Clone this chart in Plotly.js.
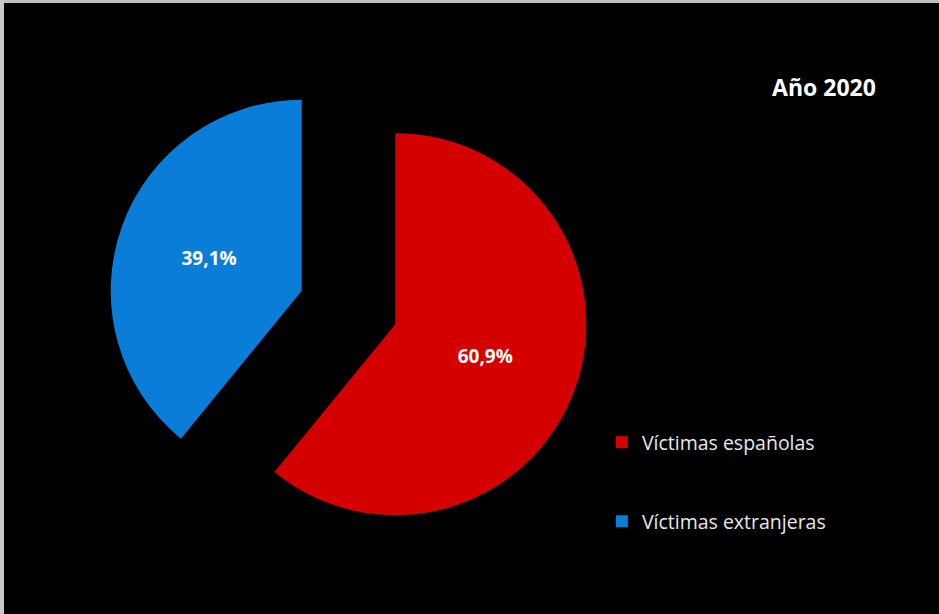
<!DOCTYPE html>
<html>
<head>
<meta charset="utf-8">
<script src="https://cdn.plot.ly/plotly-3.0.1.min.js"></script>
<style>html,body{margin:0;padding:0;background:#000;}#chart{width:939px;height:614px;}</style>
</head>
<body>
<div id="chart"></div>
<script>
var categories = ["Víctimas españolas", "Víctimas extranjeras"];
var values = [60.9, 39.1];
var colors = ["#d40000", "#0a7dd8"];
var chartTitle = "Año 2020";

var legendLabels = categories.map(function (c) { return c + "<br> <br> "; });

var trace = {
  type: "pie",
  labels: legendLabels,
  values: values,
  sort: false,
  direction: "clockwise",
  rotation: 0,
  pull: [0.26, 0.26],
  marker: { colors: colors, line: { width: 0 } },
  texttemplate: "%{percent:.1%}",
  textposition: "inside",
  insidetextorientation: "horizontal",
  textfont: { family: "Open Sans, sans-serif", size: 19, color: "#ffffff", weight: "bold" },
  hoverinfo: "none",
  domain: { x: [0.1148, 0.6275], y: [0.1072, 0.8912] }
};

var layout = {
  width: 939,
  height: 614,
  paper_bgcolor: "#000000",
  plot_bgcolor: "#000000",
  margin: { l: 0, r: 0, t: 0, b: 0 },
  separators: ",.",
  title: {
    text: "<b>" + chartTitle + "</b>",
    font: { family: "Open Sans, sans-serif", size: 23, color: "#ffffff" },
    x: 0.8775, xanchor: "center", xref: "paper",
    y: 0.857, yanchor: "middle", yref: "container"
  },
  showlegend: true,
  legend: {
    x: 0.641, xanchor: "left",
    y: 0.311, yanchor: "top",
    bgcolor: "rgba(0,0,0,0)",
    font: { family: "Open Sans, sans-serif", size: 19.5, color: "#e8e8e8" },
    valign: "top"
  },
  shapes: [
    { type: "rect", xref: "paper", yref: "paper", x0: 0, x1: 1, y0: 1 - 3/614, y1: 1, fillcolor: "#c0c0c0", line: { width: 0 } },
    { type: "rect", xref: "paper", yref: "paper", x0: 0, x1: 4/939, y0: 0, y1: 1, fillcolor: "#c8c8c8", line: { width: 0 } }
  ]
};

Plotly.newPlot("chart", [trace], layout, { displayModeBar: false, staticPlot: true });
</script>
</body>
</html>
